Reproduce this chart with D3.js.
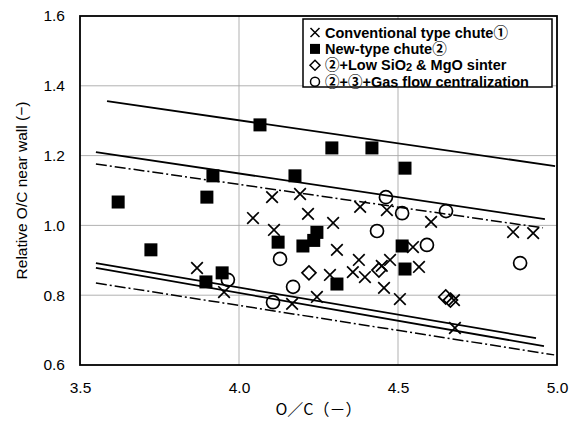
<!DOCTYPE html>
<html>
<head>
<meta charset="utf-8">
<script src="https://cdn.jsdelivr.net/npm/d3@7/dist/d3.min.js"></script>
<style>
  body { margin: 0; background: #fff; }
  text { font-family: "Liberation Sans", Arial, "Noto Sans CJK JP", sans-serif; fill: #000; }
</style>
</head>
<body>
<script>
//Relative O/C near wall against O/C, four chute / burden conditions

//Data: [O/C, relative O/C near wall]
var conventional = [
  [4.104, 1.081], [4.192, 1.090], [4.044, 1.021], [4.217, 1.033], [4.110, 0.987],
  [4.296, 1.007], [4.381, 1.053], [4.465, 1.044], [4.604, 1.010], [4.862, 0.981],
  [4.925, 0.978], [4.308, 0.930], [4.377, 0.901], [4.475, 0.901], [4.547, 0.938],
  [4.566, 0.881], [4.286, 0.858], [4.358, 0.866], [4.396, 0.852], [4.449, 0.884],
  [4.456, 0.821], [4.245, 0.795], [4.506, 0.789], [4.676, 0.786], [4.167, 0.775],
  [4.679, 0.706], [3.868, 0.878], [3.953, 0.809]
];
var newType = [
  [4.066, 1.288], [4.292, 1.222], [4.418, 1.222], [4.522, 1.164], [3.918, 1.142],
  [4.176, 1.142], [3.620, 1.067], [3.899, 1.081], [4.123, 0.952], [4.201, 0.941],
  [4.245, 0.980], [4.235, 0.957], [4.513, 0.941], [4.522, 0.875], [4.308, 0.832],
  [3.723, 0.930], [3.947, 0.864], [3.896, 0.838]
];
var lowSiO2 = [
  [4.220, 0.864], [4.440, 0.872], [4.650, 0.795], [4.665, 0.786]
];
var gasFlow = [
  [4.462, 1.081], [4.513, 1.035], [4.651, 1.041], [4.434, 0.984], [4.129, 0.904],
  [4.591, 0.944], [4.884, 0.892], [4.170, 0.824], [4.107, 0.780], [3.965, 0.844]
];

//Trend / bound lines, [start, end]
var solidLines = [
  [[3.585, 1.356], [4.994, 1.170]],
  [[3.550, 1.210], [4.962, 1.018]],
  [[3.550, 0.892], [4.934, 0.677]],
  [[3.550, 0.878], [4.959, 0.654]]
];
var dashDotLines = [
  [[3.550, 1.176], [4.956, 0.993]],
  [[3.550, 0.835], [4.991, 0.629]]
];

var xTicks = [3.5, 4.0, 4.5, 5.0];
var yTicks = [0.6, 0.8, 1.0, 1.2, 1.4, 1.6];
var xGrid = [4.0, 4.5];
var yGrid = [0.8, 1.0, 1.2, 1.4];
var legendLabels = [
  "Conventional type chute\u2460",
  "New-type chute\u2461",
  "\u2461+Low SiO|2| & MgO sinter",
  "\u2461+\u2462+Gas flow centralization"
];

//Layout
var W = 571;
var H = 421;
var Left = 80, Right = 557, Top = 16, Bottom = 365;

function main() {
  var svg = d3.select("body").append("svg")
      .attr("width", W)
      .attr("height", H);

  var xScale = d3.scaleLinear().domain([3.5, 5.0]).range([Left, Right]);
  var yScale = d3.scaleLinear().domain([0.6, 1.6]).range([Bottom, Top]);

  drawGrid(svg, xScale, yScale);
  drawLines(svg, xScale, yScale);
  drawPoints(svg, xScale, yScale);
  drawFrame(svg);
  drawAxes(svg, xScale, yScale);
  drawLegend(svg);
}

function drawGrid(svg, xScale, yScale) {
  //light grey grid lines inside the frame
  var g = svg.append("g").attr("stroke", "#a8a8a8").attr("stroke-width", 0.9);
  g.selectAll(".gx").data(xGrid).enter().append("line")
    .attr("x1", function(d) { return xScale(d); })
    .attr("x2", function(d) { return xScale(d); })
    .attr("y1", Top).attr("y2", Bottom);
  g.selectAll(".gy").data(yGrid).enter().append("line")
    .attr("y1", function(d) { return yScale(d); })
    .attr("y2", function(d) { return yScale(d); })
    .attr("x1", Left).attr("x2", Right);
}

function drawLines(svg, xScale, yScale) {
  var line = d3.line()
    .x(function(d) { return xScale(d[0]); })
    .y(function(d) { return yScale(d[1]); });

  svg.selectAll(".solid").data(solidLines).enter().append("path")
    .attr("d", line)
    .attr("fill", "none")
    .attr("stroke", "#000")
    .attr("stroke-width", 1.8);

  svg.selectAll(".dashdot").data(dashDotLines).enter().append("path")
    .attr("d", line)
    .attr("fill", "none")
    .attr("stroke", "#000")
    .attr("stroke-width", 1.5)
    .attr("stroke-dasharray", "11,3,2,3");
}

function crossPath(cx, cy, r) {
  return "M" + (cx - r) + "," + (cy - r) + "L" + (cx + r) + "," + (cy + r) +
         "M" + (cx - r) + "," + (cy + r) + "L" + (cx + r) + "," + (cy - r);
}

function diamondPath(cx, cy, r) {
  return "M" + cx + "," + (cy - r) + "L" + (cx + r) + "," + cy +
         "L" + cx + "," + (cy + r) + "L" + (cx - r) + "," + cy + "Z";
}

function drawPoints(svg, xScale, yScale) {
  svg.selectAll(".sq").data(newType).enter().append("rect")
    .attr("x", function(d) { return xScale(d[0]) - 6.5; })
    .attr("y", function(d) { return yScale(d[1]) - 6.5; })
    .attr("width", 13).attr("height", 13)
    .attr("fill", "#000");

  svg.selectAll(".cr").data(conventional).enter().append("path")
    .attr("d", function(d) { return crossPath(xScale(d[0]), yScale(d[1]), 5.8); })
    .attr("stroke", "#000").attr("stroke-width", 1.7).attr("fill", "none");

  svg.selectAll(".dm").data(lowSiO2).enter().append("path")
    .attr("d", function(d) { return diamondPath(xScale(d[0]), yScale(d[1]), 7); })
    .attr("stroke", "#000").attr("stroke-width", 1.7).attr("fill", "none");

  svg.selectAll(".ci").data(gasFlow).enter().append("circle")
    .attr("cx", function(d) { return xScale(d[0]); })
    .attr("cy", function(d) { return yScale(d[1]); })
    .attr("r", 6.5)
    .attr("stroke", "#000").attr("stroke-width", 1.7).attr("fill", "none");
}

function drawFrame(svg) {
  svg.append("rect")
    .attr("x", Left).attr("y", Top)
    .attr("width", Right - Left).attr("height", Bottom - Top)
    .attr("fill", "none").attr("stroke", "#000").attr("stroke-width", 1.8);
}

function drawAxes(svg, xScale, yScale) {
  var fmt = d3.format(".1f");

  var yAxis = d3.axisLeft(yScale).tickValues(yTicks).tickSize(0).tickPadding(15).tickFormat(fmt);
  var gy = svg.append("g").attr("transform", "translate(" + Left + ",0)").call(yAxis);
  gy.select(".domain").remove();
  gy.selectAll("text").style("font-size", "15.5px").style("font-family", "Liberation Sans, Arial, sans-serif");

  var xAxis = d3.axisBottom(xScale).tickValues(xTicks).tickSize(0).tickPadding(17).tickFormat(fmt);
  var gx = svg.append("g").attr("transform", "translate(0," + Bottom + ")").call(xAxis);
  gx.select(".domain").remove();
  gx.selectAll("text").style("font-size", "15.5px").style("font-family", "Liberation Sans, Arial, sans-serif");

  svg.append("text")
    .attr("transform", "translate(21," + ((Top + Bottom) / 2) + ") rotate(-90)")
    .attr("text-anchor", "middle")
    .attr("dominant-baseline", "central")
    .style("font-size", "15.5px")
    .text("Relative O/C near wall (\u2212)");

  svg.append("text")
    .attr("x", (Left + Right) / 2)
    .attr("y", 415)
    .attr("text-anchor", "middle")
    .style("font-size", "16px")
    .style("font-family", "Noto Sans CJK JP, sans-serif")
    .text("O\uFF0FC\uFF08\uFF0D\uFF09");
}

function drawLegend(svg) {
  var lx = 303, ly = 19, lw = 249, lh = 68;
  var g = svg.append("g");
  g.append("rect")
    .attr("x", lx).attr("y", ly).attr("width", lw).attr("height", lh)
    .attr("fill", "#fff").attr("stroke", "#000").attr("stroke-width", 1.5);

  var rowY = function(i) { return ly + 13.5 + i * 16.4; };
  var mx = lx + 12;

  g.append("path").attr("d", crossPath(mx, rowY(0), 4.5))
    .attr("stroke", "#000").attr("stroke-width", 1.5);
  g.append("rect").attr("x", mx - 5).attr("y", rowY(1) - 5)
    .attr("width", 10).attr("height", 10).attr("fill", "#000");
  g.append("path").attr("d", diamondPath(mx, rowY(2), 5))
    .attr("stroke", "#000").attr("stroke-width", 1.5).attr("fill", "none");
  g.append("circle").attr("cx", mx).attr("cy", rowY(3)).attr("r", 4.5)
    .attr("stroke", "#000").attr("stroke-width", 1.5).attr("fill", "none");

  legendLabels.forEach(function(label, i) {
    var t = g.append("text")
      .attr("x", lx + 22)
      .attr("y", rowY(i))
      .attr("dominant-baseline", "central")
      .style("font-size", "14.5px")
      .style("font-weight", "bold");
    //pieces between | | are written smaller (the subscript of SiO2)
    label.split("|").forEach(function(part, j) {
      t.append("tspan")
        .style("font-size", j % 2 ? "11px" : null)
        .attr("dy", j % 2 ? 2 : (j > 0 ? -2 : null))
        .text(part);
    });
  });
}

main();
</script>
</body>
</html>
